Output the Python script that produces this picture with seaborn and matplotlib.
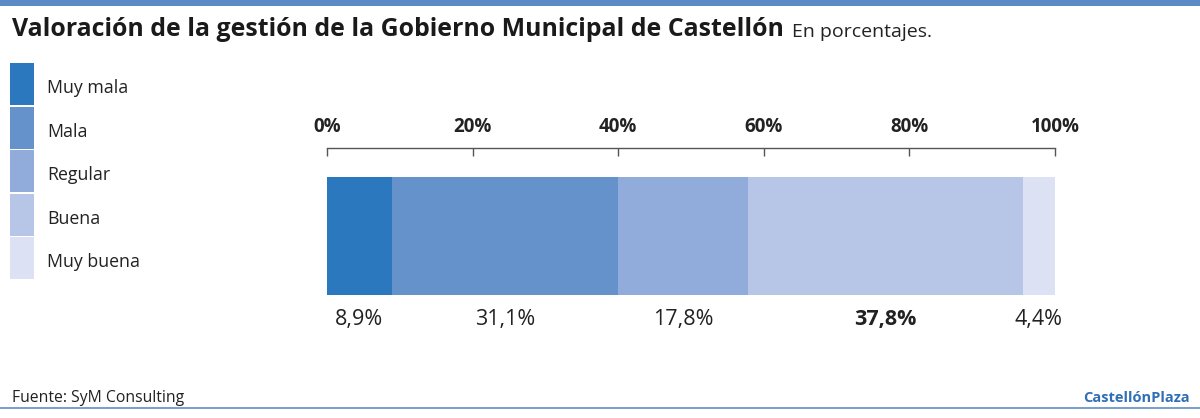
import pandas as pd
import numpy as np
import matplotlib
matplotlib.use("Agg")
import matplotlib.pyplot as plt
from matplotlib.patches import Rectangle
import seaborn as sns

# Datos
categorias = ["Muy mala", "Mala", "Regular", "Buena", "Muy buena"]
valores = [8.9, 31.1, 17.8, 37.8, 4.4]
etiquetas = ["8,9%", "31,1%", "17,8%", "37,8%", "4,4%"]
colores = ["#2b78be", "#6592cb", "#91abdb", "#b7c6e6", "#dce1f3"]
ticks = [0, 20, 40, 60, 80, 100]

sns.set_theme(style="white")
plt.rcParams["font.family"] = ["Open Sans", "DejaVu Sans"]

df = pd.DataFrame({"cat": categorias, "valor": valores, "color": colores})
df["acum"] = df["valor"].cumsum()
df["inicio"] = df["acum"] - df["valor"]

W, H = 1200, 418
fig = plt.figure(figsize=(W / 100, H / 100), dpi=100)

def fx(px):
    return px / W

def fy(py):
    return 1 - py / H

ax = fig.add_axes([fx(327), fy(300), fx(1055) - fx(327), fy(148) - fy(300)])

# barras apiladas: dibujar acumulados de mayor a menor
for i in reversed(range(len(df))):
    sns.barplot(x=[df["acum"][i]], y=[""], color=df["color"][i], ax=ax,
                width=0.8, saturation=1, linewidth=0, orient="h")

ax.set_xlim(0, 100)
ax.set_ylim(0.434, -0.597)
ax.set_xticks(ticks)
ax.set_xticklabels([f"{t}%" for t in ticks], fontsize=13.5, fontweight="bold", color="#222222")
ax.xaxis.tick_top()
ax.tick_params(axis="x", direction="in", length=6, width=1, color="#555555", pad=8)
ax.set_yticks([])
ax.set_xlabel("")
ax.set_ylabel("")
for s in ["left", "right", "bottom"]:
    ax.spines[s].set_visible(False)
ax.spines["top"].set_color("#555555")
ax.spines["top"].set_linewidth(1)

# etiquetas de valor bajo cada segmento
for i, row in df.iterrows():
    centro = row["inicio"] + row["valor"] / 2
    peso = "bold" if row["valor"] == max(valores) else "normal"
    ax.text(centro, 0.4 + 25 / 147.5, etiquetas[i], ha="center", va="center",
            fontsize=15.5, fontweight=peso, color="#222222",
            transform=ax.transData, clip_on=False)

# leyenda
for i, (cat, col) in enumerate(zip(categorias, colores)):
    top = 63 + i * 43.6
    fig.add_artist(Rectangle((fx(10), fy(top + 42)), fx(24), fy(top) - fy(top + 42),
                             transform=fig.transFigure, facecolor=col, edgecolor="none"))
    fig.text(fx(47), fy(top + 25), cat, ha="left", va="center", fontsize=12.8, color="#222222")

# título
fig.add_artist(Rectangle((0, fy(6)), 1, fy(0) - fy(6), transform=fig.transFigure,
                         facecolor="#5b8bc4", edgecolor="none"))
t = fig.text(fx(12), fy(30), "Valoración de la gestión de la Gobierno Municipal de Castellón",
             ha="left", va="center", fontsize=17.9, fontweight="bold", color="#1a1a1a")
fig.canvas.draw()
bb = t.get_window_extent()
fig.text(bb.x1 / W + fx(8), fy(32), "En porcentajes.", ha="left", va="center",
         fontsize=14, color="#222222")

# pie
fig.add_artist(Rectangle((0, fy(409)), 1, fy(407) - fy(409), transform=fig.transFigure,
                         facecolor="#7aa0cf", edgecolor="none"))
fig.text(fx(12), fy(398), "Fuente: SyM Consulting", ha="left", va="center", fontsize=11.3,
         color="#222222")
fig.text(fx(1190), fy(398), "CastellónPlaza", ha="right", va="center", fontsize=10.5,
         fontweight="bold", color="#2f6fb5")

fig.savefig("out.png", dpi=100)
